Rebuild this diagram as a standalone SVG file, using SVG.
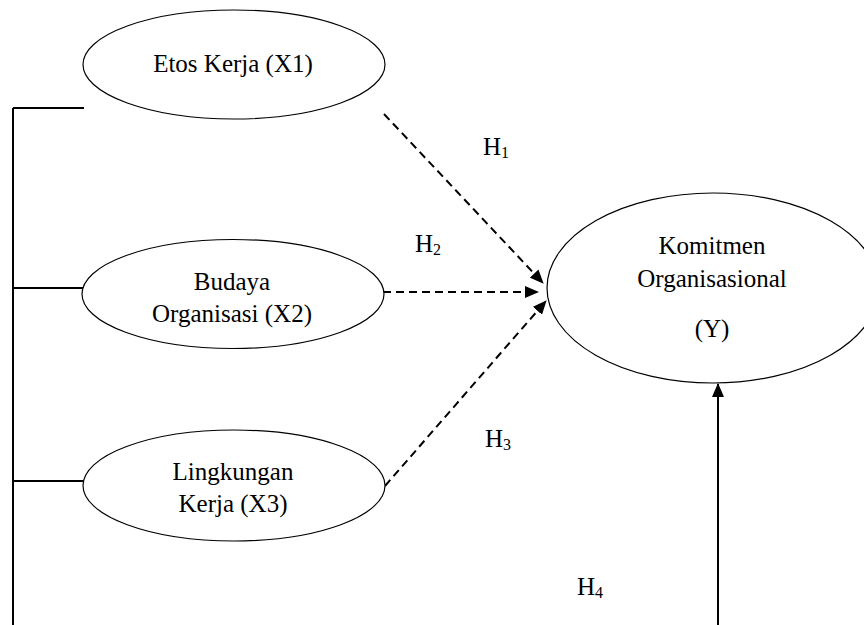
<svg xmlns="http://www.w3.org/2000/svg" width="864" height="625" viewBox="0 0 864 625">
<style>
text{font-family:"Liberation Serif","Times New Roman",serif;font-size:25px;fill:#000}
.sub{font-size:16px}
.node ellipse{fill:#fff;stroke:#000;stroke-width:1.2}
.dash{stroke:#000;stroke-width:2;stroke-dasharray:8 5;fill:none}
.solid{stroke:#000;stroke-width:2;fill:none}
</style>
<defs>
<marker id="ah" markerUnits="userSpaceOnUse" markerWidth="14" markerHeight="12" refX="13" refY="6" orient="auto">
<path d="M0,0 L14,6 L0,12 z" fill="#000"/>
</marker>
</defs>
<rect width="864" height="625" fill="#fff"/>
<g id="connectors">
<line class="solid" x1="13" y1="108" x2="13" y2="625"/>
<line class="solid" x1="13" y1="108" x2="84" y2="108"/>
<line class="solid" x1="13" y1="288" x2="83" y2="288"/>
<line class="solid" x1="13" y1="481" x2="84" y2="481"/>
<line class="dash" x1="384" y1="114" x2="543" y2="283" marker-end="url(#ah)"/>
<line class="dash" x1="383" y1="292" x2="538" y2="292" marker-end="url(#ah)"/>
<line class="dash" x1="385" y1="486" x2="546" y2="301" marker-end="url(#ah)"/>
<line class="solid" x1="718" y1="625" x2="718" y2="384" marker-end="url(#ah)"/>
<text x="483" y="155">H<tspan class="sub" dy="3">1</tspan></text>
<text x="415" y="252">H<tspan class="sub" dy="3">2</tspan></text>
<text x="485" y="447">H<tspan class="sub" dy="3">3</tspan></text>
<text x="577" y="595">H<tspan class="sub" dy="3">4</tspan></text>
</g>
<g id="x1" class="node">
<ellipse cx="234" cy="64.5" rx="151" ry="54.5"/>
<text x="233" y="72" text-anchor="middle">Etos Kerja (X1)</text>
</g>
<g id="x2" class="node">
<ellipse cx="233" cy="294" rx="151" ry="54.5"/>
<text x="232" y="290" text-anchor="middle">Budaya</text>
<text x="232" y="322" text-anchor="middle">Organisasi (X2)</text>
</g>
<g id="x3" class="node">
<ellipse cx="234" cy="485.5" rx="151" ry="55.5"/>
<text x="233" y="480" text-anchor="middle">Lingkungan</text>
<text x="233" y="512" text-anchor="middle">Kerja (X3)</text>
</g>
<g id="y" class="node">
<ellipse cx="713" cy="288" rx="166" ry="95"/>
<text x="712" y="254" text-anchor="middle">Komitmen</text>
<text x="712" y="287" text-anchor="middle">Organisasional</text>
<text x="712" y="337" text-anchor="middle">(Y)</text>
</g>
</svg>
